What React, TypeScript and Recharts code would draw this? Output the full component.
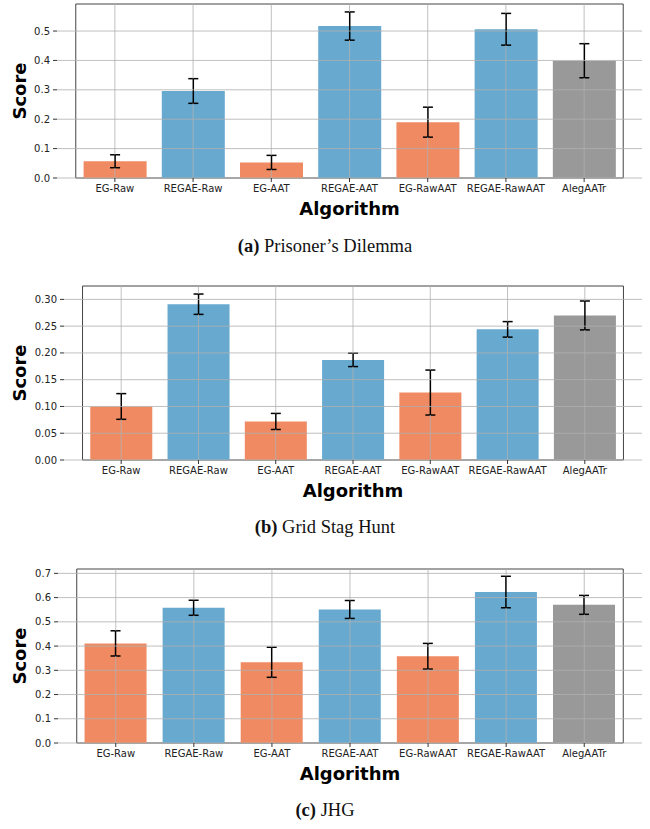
import { BarChart, Bar, XAxis, YAxis, ErrorBar, Cell, ReferenceArea, ReferenceLine } from "recharts";

const categories = ["EG-Raw", "REGAE-Raw", "EG-AAT", "REGAE-AAT", "EG-RawAAT", "REGAE-RawAAT", "AlegAATr"];
const barColors = ["#ef8a62", "#67a9cf", "#ef8a62", "#67a9cf", "#ef8a62", "#67a9cf", "#999999"];

const pdScores = [0.057, 0.296, 0.053, 0.517, 0.19, 0.506, 0.399];
const pdErrors = [0.022, 0.042, 0.024, 0.048, 0.051, 0.054, 0.058];
const pdTicks = [0, 0.1, 0.2, 0.3, 0.4, 0.5];

const gshScores = [0.1, 0.291, 0.072, 0.187, 0.126, 0.244, 0.27];
const gshErrors = [0.024, 0.019, 0.015, 0.0125, 0.042, 0.0145, 0.027];
const gshTicks = [0, 0.05, 0.1, 0.15, 0.2, 0.25, 0.3];

const jhgScores = [0.411, 0.558, 0.333, 0.551, 0.358, 0.623, 0.57];
const jhgErrors = [0.052, 0.031, 0.062, 0.037, 0.053, 0.065, 0.039];
const jhgTicks = [0, 0.1, 0.2, 0.3, 0.4, 0.5, 0.6, 0.7];

const FONT = "DejaVu Sans, sans-serif";
const GRID = "#b0b0b0";

interface PanelProps {
  scores: number[];
  errors: number[];
  ticks: number[];
  yMax: number;
  decimals: number;
  axisWidth: number;
  top: number;
}

function Panel({ scores, errors, ticks, yMax, decimals, axisWidth, top }: PanelProps) {
  const data = categories.map((name, i) => ({ name, score: scores[i], err: errors[i] }));
  const plotW = 642 - axisWidth;
  const band = plotW / 7.48;
  const pad = band * 0.24;
  return (
    <div style={{ position: "absolute", left: 0, top }}>
      <BarChart
        width={650}
        height={222}
        data={data}
        margin={{ top: 4, right: 8, bottom: 0, left: 0 }}
        barCategoryGap="10%"
      >
        <XAxis
          dataKey="name"
          interval={0}
          padding={{ left: pad, right: pad }}
          height={44}
          tickSize={4}
          tickMargin={3}
          axisLine={false}
          tickLine={{ stroke: "#333" }}
          tick={{ fill: "#222", fontSize: 10, fontFamily: FONT }}
          label={{
            value: "Algorithm",
            position: "insideBottom",
            offset: 7,
            style: { fontFamily: FONT, fontWeight: "bold", fontSize: 18, fill: "#000" },
          }}
        />
        <YAxis
          width={axisWidth}
          domain={[0, yMax]}
          ticks={ticks}
          tickFormatter={(v: number) => v.toFixed(decimals)}
          tickSize={4}
          tickMargin={3}
          axisLine={false}
          tickLine={{ stroke: "#333" }}
          tick={{ fill: "#222", fontSize: 10, fontFamily: FONT }}
          label={{
            value: "Score",
            angle: -90,
            position: "insideLeft",
            offset: 20,
            style: { textAnchor: "middle", fontFamily: FONT, fontWeight: "bold", fontSize: 18, fill: "#000" },
          }}
        />
        <Bar dataKey="score" isAnimationActive={false}>
          {data.map((d, i) => (
            <Cell key={d.name} fill={barColors[i]} />
          ))}
          <ErrorBar dataKey="err" width={5} stroke="#000" strokeWidth={1.5} />
        </Bar>
        {ticks.map((t) => (
          <ReferenceLine key={"h" + t} y={t} stroke={GRID} strokeOpacity={0.8} />
        ))}
        {/* vertical grid split so it runs under the error bars */}
        {data.map((d) => (
          <ReferenceLine
            key={"vb" + d.name}
            segment={[{ x: d.name, y: 0 }, { x: d.name, y: d.score - d.err }]}
            stroke={GRID}
            strokeOpacity={0.8}
          />
        ))}
        {data.map((d) => (
          <ReferenceLine
            key={"vt" + d.name}
            segment={[{ x: d.name, y: d.score + d.err }, { x: d.name, y: yMax }]}
            stroke={GRID}
            strokeOpacity={0.8}
          />
        ))}
        <ReferenceArea y1={0} y2={yMax} fill="none" stroke="#444" strokeWidth={1} ifOverflow="visible" />
      </BarChart>
    </div>
  );
}

function Caption({ tag, text, top }: { tag: string; text: string; top: number }) {
  return (
    <div
      style={{
        position: "absolute",
        left: 0,
        top,
        width: 650,
        textAlign: "center",
        fontFamily: "Liberation Serif, serif",
        fontSize: 18.5,
        color: "#111",
      }}
    >
      <b>{tag}</b> {text}
    </div>
  );
}

export default function App() {
  return (
    <div style={{ position: "absolute", left: 0, top: 0, width: 650, height: 829, background: "#fff" }}>
      <Panel scores={pdScores} errors={pdErrors} ticks={pdTicks} yMax={0.592} decimals={1} axisWidth={57} top={0} />
      <Caption tag="(a)" text="Prisoner’s Dilemma" top={236} />
      <Panel scores={gshScores} errors={gshErrors} ticks={gshTicks} yMax={0.325} decimals={2} axisWidth={64} top={282} />
      <Caption tag="(b)" text="Grid Stag Hunt" top={517} />
      <Panel scores={jhgScores} errors={jhgErrors} ticks={jhgTicks} yMax={0.718} decimals={1} axisWidth={58} top={565} />
      <Caption tag="(c)" text="JHG" top={800} />
    </div>
  );
}
